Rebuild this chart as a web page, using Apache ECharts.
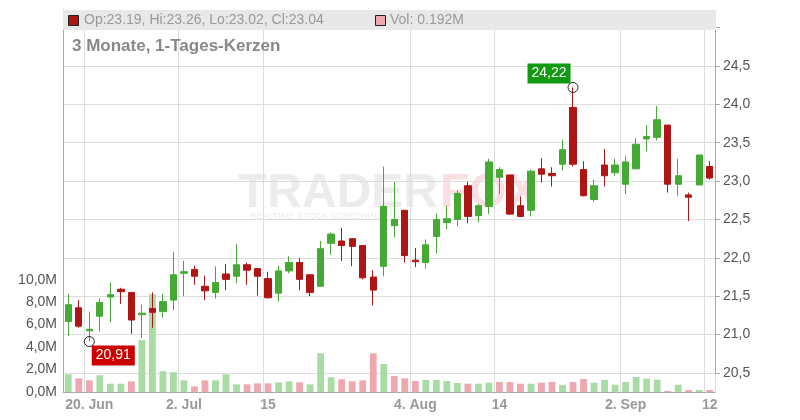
<!DOCTYPE html>
<html><head><meta charset="utf-8">
<script src="https://cdn.jsdelivr.net/npm/echarts@6/dist/echarts.min.js"></script>
<style>html,body{margin:0;padding:0;background:#fff}#c{width:800px;height:420px}</style>
</head><body><div id="c"></div>
<script>
const opens=[21.17,21.35,21.05,21.24,21.49,21.59,21.55,21.26,21.34,21.30,21.45,21.80,21.85,21.63,21.55,21.79,21.76,21.91,21.86,21.73,21.54,21.83,21.94,21.78,21.63,22.19,22.22,22.25,22.16,21.75,21.89,22.42,22.62,21.97,21.94,22.28,22.46,22.50,22.94,22.55,22.67,23.05,23.08,22.68,22.62,23.16,23.10,23.22,23.96,23.15,22.76,23.21,23.11,22.96,23.16,23.55,23.57,23.73,22.96,22.82,22.95,23.19];
const closes=[21.39,21.11,21.07,21.42,21.52,21.56,21.19,21.28,21.29,21.43,21.78,21.82,21.76,21.57,21.68,21.72,21.91,21.84,21.76,21.48,21.83,21.94,21.72,21.55,22.12,22.31,22.16,22.15,21.74,21.58,22.67,22.50,22.03,21.95,22.17,22.50,22.51,22.84,22.54,22.68,23.25,23.15,22.57,22.54,23.13,23.09,23.07,23.41,23.22,22.81,22.94,23.07,23.21,23.25,23.48,23.58,23.80,22.96,23.07,22.79,23.34,23.04];
const highs=[21.53,21.45,21.30,21.47,21.68,21.61,21.55,21.39,21.55,21.53,22.08,21.96,21.90,21.77,21.89,21.92,22.18,21.94,21.86,21.82,21.90,22.02,22.00,21.78,22.22,22.33,22.39,22.25,22.16,21.84,23.19,22.99,22.62,22.13,22.24,22.58,22.68,22.88,22.99,22.70,23.29,23.18,23.08,22.80,23.15,23.30,23.18,23.54,24.22,23.26,23.02,23.42,23.29,23.33,23.56,23.73,23.98,23.73,23.29,22.85,23.34,23.26];
const lows=[20.98,21.09,20.91,21.04,21.16,21.40,21.01,20.96,21.09,21.22,21.32,21.50,21.65,21.45,21.47,21.58,21.67,21.65,21.51,21.47,21.43,21.80,21.58,21.50,21.63,22.04,21.96,21.89,21.72,21.38,21.76,22.27,21.94,21.88,21.86,22.06,22.37,22.41,22.45,22.46,22.57,22.83,22.56,22.53,22.54,22.98,22.93,23.14,23.19,22.80,22.73,22.93,23.07,22.83,23.16,23.39,23.53,22.85,22.81,22.48,22.95,23.02];
const volumes=[1.58,1.22,1.04,1.49,0.74,0.74,0.95,4.61,8.7,1.85,1.76,1.04,0.5,1.04,1.04,1.58,0.68,0.68,0.77,0.77,0.86,0.95,0.86,0.68,3.45,1.31,1.13,0.95,1.04,3.45,2.5,1.43,1.22,0.98,1.07,1.07,0.98,0.8,0.74,0.74,0.83,0.89,0.89,0.74,0.74,0.83,0.89,0.63,0.89,1.16,0.83,1.07,0.65,0.89,1.34,1.19,1.1,0.09,0.65,0.18,0.18,0.18];
const volUp="GRRGGGRGGGGGRRGGGRRRGGRGGGRRRRGRRRGGGGRGGRRRGRRGRRGGGGGGGRGRGR".split('');
const dateLabels={2:'20. Jun',11:'2. Jul',19:'15',33:'4. Aug',41:'14',53:'2. Sep',61:'12'};
const categories=opens.map((_,i)=>String(i));
const lowMark={idx:2,value:20.91,text:'20,91'};
const highMark={idx:48,value:24.22,text:'24,22'};

const GREEN='#44aa33',RED='#b01515';
const chart=echarts.init(document.getElementById('c'));
const isLab=(i)=>dateLabels[i]!==undefined;
chart.setOption({
  animation:false,
  grid:[{left:63,right:85,top:27.6,bottom:47},{left:63,right:85,top:10,bottom:28}],
  xAxis:[
    {type:'category',gridIndex:0,data:categories,axisLine:{show:false},axisTick:{show:false},axisLabel:{show:false},splitLine:{show:false}},
    {type:'category',gridIndex:1,data:categories,axisLine:{lineStyle:{color:'#aaa'}},
     axisTick:{alignWithLabel:true,interval:(i)=>isLab(i),lineStyle:{color:'#aaa'}},
     axisLabel:{interval:(i)=>isLab(i),formatter:(v)=>dateLabels[+v]||'',color:'#999',fontWeight:'bold',fontSize:14,fontFamily:'Liberation Sans, Arial',margin:6},
     splitLine:{show:true,interval:(i)=>isLab(i),lineStyle:{color:'#ddd'}}}
  ],
  yAxis:[
    {type:'value',gridIndex:0,position:'right',min:20.5,max:25,interval:0.5,
     axisLine:{show:true,lineStyle:{color:'#aaa'}},axisTick:{show:true,lineStyle:{color:'#aaa'}},
     axisLabel:{color:'#555',fontSize:14,fontFamily:'Liberation Sans, Arial',margin:8,formatter:(v)=>v>=25?'':v.toFixed(1).replace('.',',')},
     splitLine:{lineStyle:{color:'#ddd'}}},
    {type:'value',gridIndex:1,position:'left',min:0,max:34,interval:2,
     axisLine:{show:true,lineStyle:{color:'#aaa'}},axisTick:{show:false},
     axisLabel:{color:'#555',fontSize:14,fontFamily:'Liberation Sans, Arial',margin:6,formatter:(v)=>v>10?'':v.toFixed(1).replace('.',',')+'M'},
     splitLine:{show:false}}
  ],
  series:[
    {type:'bar',xAxisIndex:1,yAxisIndex:1,barWidth:'65%',
     data:volumes.map((v,i)=>({value:v,itemStyle:{color:volUp[i]==='G'?'#a8dca4':'#eea8b0'}}))},
    {type:'candlestick',xAxisIndex:0,yAxisIndex:0,barWidth:'65%',clip:false,
     data:opens.map((o,i)=>[o,closes[i],lows[i],highs[i]]),
     itemStyle:{color:GREEN,color0:RED,borderColor:GREEN,borderColor0:RED,borderWidth:1},
     markPoint:{symbol:'circle',symbolSize:10,itemStyle:{color:'rgba(0,0,0,0)',borderColor:'#222',borderWidth:1},
       data:[
        {coord:[String(lowMark.idx),lowMark.value],label:{show:true,formatter:lowMark.text,color:'#fff',backgroundColor:'#cc0000',padding:[3,4],fontSize:14,fontFamily:'Liberation Sans, Arial',offset:[24,14]}},
        {coord:[String(highMark.idx),highMark.value],label:{show:true,formatter:highMark.text,color:'#fff',backgroundColor:'#119911',padding:[3,4],fontSize:14,fontFamily:'Liberation Sans, Arial',offset:[-24,-14]}}
       ]}}
  ],
  graphic:[
    {type:'text',left:238,top:170,z:-1,silent:true,style:{text:'TRADER',fill:'rgba(200,200,200,0.35)',font:'bold 48px Liberation Sans, Arial'}},
    {type:'text',left:440,top:170,z:-1,silent:true,style:{text:'FOX',fill:'rgba(240,150,160,0.3)',font:'bold 48px Liberation Sans, Arial'}},
    {type:'text',left:250,top:212,z:-1,silent:true,style:{text:'REALTIME STOCK SCREENING',fill:'rgba(200,200,200,0.35)',font:'9px Liberation Sans, Arial'}},
    {type:'rect',shape:{x:63,y:10,width:653,height:20},style:{fill:'#e8e8e8'},z:10},
    {type:'rect',shape:{x:68.5,y:15.5,width:10,height:10},style:{fill:RED,stroke:'#222',lineWidth:1},z:11},
    {type:'text',x:84,y:13,z:11,style:{text:'Op:23.19, Hi:23.26, Lo:23.02, Cl:23.04',fill:'#999',font:'14px Liberation Sans, Arial'}},
    {type:'rect',shape:{x:375.5,y:15.5,width:10,height:10},style:{fill:'#eea8b0',stroke:'#222',lineWidth:1},z:11},
    {type:'text',x:390,y:13,z:11,style:{text:'Vol: 0.192M',fill:'#999',font:'14px Liberation Sans, Arial'}},
    {type:'text',x:72,y:38,z:11,style:{text:'3 Monate, 1-Tages-Kerzen',fill:'#888',font:'bold 17px Liberation Sans, Arial'}}
  ]
});
</script></body></html>
